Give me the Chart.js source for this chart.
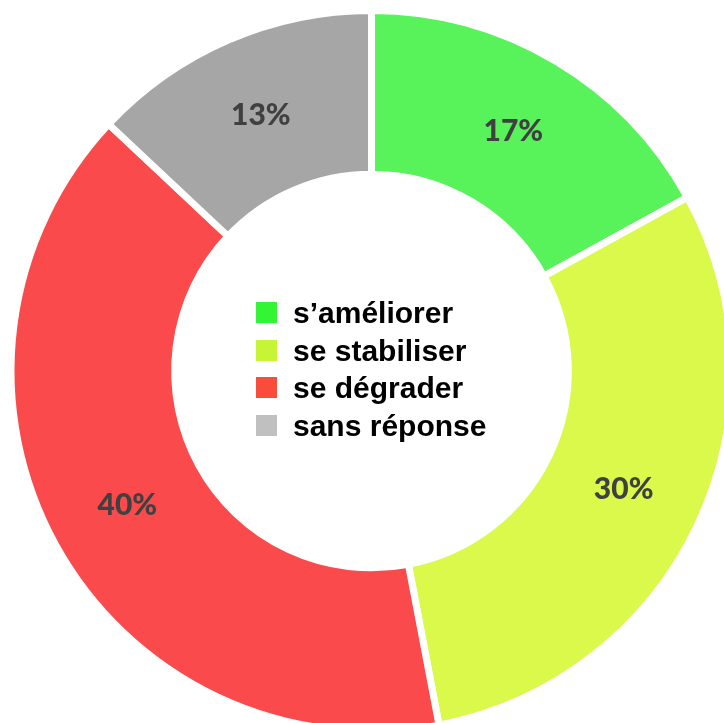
<!DOCTYPE html>
<html>
<head>
<meta charset="utf-8">
<script src="https://cdn.jsdelivr.net/npm/chart.js@4"></script>
<style>
  html, body { margin: 0; padding: 0; background: #fff; overflow: hidden; }
  #wrap { position: absolute; left: 0; top: 0; width: 743px; height: 742px; }
  #legend {
    position: absolute; left: 256px; top: 294px;
    font-family: 'Liberation Sans', Arial, sans-serif; font-weight: bold;
    font-size: 30px; color: #000; line-height: 37.5px;
  }
  #legend .row { display: flex; align-items: center; white-space: nowrap; }
  #legend .sw { width: 21px; height: 21px; margin-right: 16px; }
</style>
</head>
<body>
<div id="wrap"><canvas id="c"></canvas></div>
<div id="legend"></div>
<script>
// Data
const labels = ['s\u2019améliorer', 'se stabiliser', 'se dégrader', 'sans réponse'];
const values = [17, 30, 40, 13];
const sliceColors = ['#58f25a', '#daf94a', '#fa4a4b', '#a6a6a6'];
const legendColors = ['#33f533', '#c5f534', '#f74d3a', '#c0c0c0'];

// ── HTML legend in the hole ─────────────────
const legendEl = document.getElementById('legend');
labels.forEach((lab, i) => {
    const row = document.createElement('div');
    row.className = 'row';
    row.innerHTML = `<span class="sw" style="background:${legendColors[i]}"></span><span>${lab}</span>`;
    legendEl.appendChild(row);
});

// ── Percent labels at the ring middle ───────
const pctLabels = {
    id: 'pctLabels',
    afterDatasetsDraw(chart) {
        const ctx = chart.ctx;
        const meta = chart.getDatasetMeta(0);
        ctx.save();
        ctx.font = '900 30px Lato, "Open Sans", sans-serif';
        ctx.fillStyle = '#404040';
        ctx.textAlign = 'center';
        ctx.textBaseline = 'middle';
        meta.data.forEach((arc, i) => {
            const p = arc.tooltipPosition();
            ctx.fillText(values[i] + '%', p.x, p.y);
        });
        ctx.restore();
    }
};

new Chart(document.getElementById('c'), {
    type: 'doughnut',
    data: {
        labels,
        datasets: [{
            data: values,
            backgroundColor: sliceColors,
            borderColor: '#ffffff',
            borderWidth: 7,
        }],
    },
    options: {
        responsive: true,
        maintainAspectRatio: false,
        animation: false,
        cutout: '54.6%',
        layout: { padding: { left: 7.5, right: 7.5, top: 7, bottom: 7 } },
        plugins: {
            legend: { display: false },
            tooltip: { enabled: false },
        },
    },
    plugins: [pctLabels],
});
</script>
</body>
</html>
